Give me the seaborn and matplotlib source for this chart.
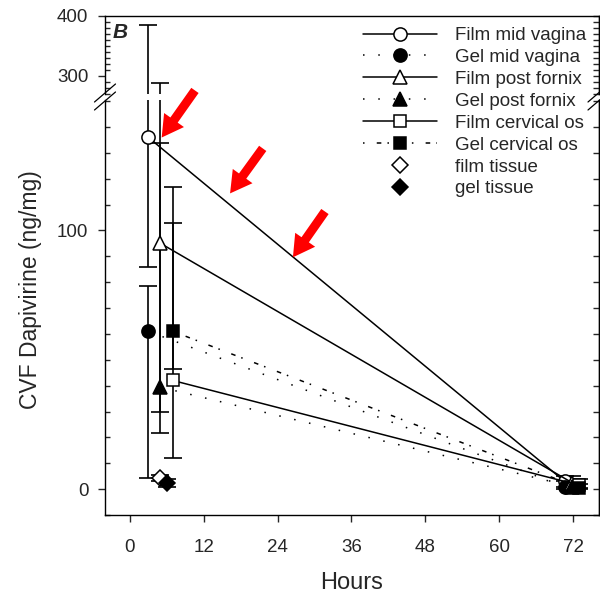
import numpy as np
import pandas as pd
import matplotlib
matplotlib.use("Agg")
import matplotlib.pyplot as plt
from matplotlib.lines import Line2D
from matplotlib.ticker import MultipleLocator, FixedLocator
import seaborn as sns

sns.set_style("ticks")
plt.rcParams["font.family"] = ["Liberation Sans", "DejaVu Sans"]

# Sampling times (h); each site is offset slightly so the groups stay readable
hours_mid = [3, 70.6]
hours_post = [5, 71.8]
hours_cerv = [7, 73]
hours_film_tissue = [5]
hours_gel_tissue = [6]

# Mean CVF dapivirine (ng/mg)
film_mid = [136, 3]
gel_mid = [61, 1]
film_post = [95, 2.5]
gel_post = [39.4, 1]
film_cerv = [42, 1.5]
gel_cerv = [61, 0.5]
film_tissue = [4.2]
gel_tissue = [2.3]

# Lower / upper ends of the error bars
film_mid_lo, film_mid_hi = [86, 1], [385, 5]
gel_mid_lo, gel_mid_hi = [4.2, 0], [78.4, 3]
film_post_lo, film_post_hi = [21.6, 1], [288, 5]
gel_post_lo, gel_post_hi = [30, 0], [133.6, 3]
film_cerv_lo, film_cerv_hi = [12, 0.5], [102.7, 4]
gel_cerv_lo, gel_cerv_hi = [46.5, 0], [116.6, 2]
film_tissue_lo, film_tissue_hi = [3.0], [5.5]
gel_tissue_lo, gel_tissue_hi = [0.8], [3.8]

DOTS = (0, (1, 9))
DASHDOT = (0, (1, 8, 3, 4))
LW = 1.1
MS = 9.5

series = [
    ("Film mid vagina", hours_mid, film_mid, film_mid_lo, film_mid_hi, "o", "white", "-"),
    ("Gel mid vagina", hours_mid, gel_mid, gel_mid_lo, gel_mid_hi, "o", "black", DOTS),
    ("Film post fornix", hours_post, film_post, film_post_lo, film_post_hi, "^", "white", "-"),
    ("Gel post fornix", hours_post, gel_post, gel_post_lo, gel_post_hi, "^", "black", DOTS),
    ("Film cervical os", hours_cerv, film_cerv, film_cerv_lo, film_cerv_hi, "s", "white", "-"),
    ("Gel cervical os", hours_cerv, gel_cerv, gel_cerv_lo, gel_cerv_hi, "s", "black", DASHDOT),
    ("film tissue", hours_film_tissue, film_tissue, film_tissue_lo, film_tissue_hi, "D", "white", "None"),
    ("gel tissue", hours_gel_tissue, gel_tissue, gel_tissue_lo, gel_tissue_hi, "D", "black", "None"),
]

W, H = 600, 596
fig = plt.figure(figsize=(W / 100, H / 100), dpi=100)

left, right = 105, 598.5
up_top, up_bot = 16, 94
lo_top, lo_bot = 100, 515
ax_up = fig.add_axes([left / W, 1 - up_bot / H, (right - left) / W, (up_bot - up_top) / H])
ax_lo = fig.add_axes([left / W, 1 - lo_bot / H, (right - left) / W, (lo_bot - lo_top) / H])

XLIM = (-4, 76.1)
for ax in (ax_up, ax_lo):
    ax.set_xlim(*XLIM)
    for s in ax.spines.values():
        s.set_linewidth(1.0)
        s.set_color("black")
ax_up.set_ylim(270, 400)
ax_lo.set_ylim(-10, 150.4)
ax_up.spines["bottom"].set_visible(False)
ax_lo.spines["top"].set_visible(False)

# markers, lines and error bars
for label, xs, ys, lo, hi, mk, fc, ls in series:
    df = pd.DataFrame({"Hours": xs, "CVF": ys})
    yerr = [np.array(ys) - np.array(lo), np.array(hi) - np.array(ys)]
    for ax in (ax_up, ax_lo):
        ax.errorbar(xs, ys, yerr=yerr, fmt="none", ecolor="black",
                    elinewidth=1.2, capsize=6.5, capthick=1.2, zorder=2)
    ms = MS - 1.5 if mk in ("s", "D") else MS
    sns.lineplot(data=df, x="Hours", y="CVF", ax=ax_lo, color="black",
                 linestyle=ls, linewidth=LW, marker=mk, markersize=ms,
                 markerfacecolor=fc, markeredgecolor="black",
                 markeredgewidth=1.1, errorbar=None, legend=False, zorder=3)

# axis ticks
ax_lo.set_xticks(np.arange(0, 73, 12))
ax_lo.tick_params(axis="x", which="major", direction="out", length=5, width=1,
                  labelsize=13.5, pad=12.5, top=False)
ax_up.tick_params(axis="x", which="both", bottom=False, top=False, labelbottom=False)

ax_lo.set_yticks([0, 100])
ax_lo.yaxis.set_minor_locator(MultipleLocator(10))
ax_up.set_yticks([300, 400])
ax_up.yaxis.set_minor_locator(MultipleLocator(10))
for ax in (ax_up, ax_lo):
    ax.tick_params(axis="y", which="major", direction="out", length=5, width=1,
                   labelsize=13.5, pad=7, right=False)
    ax.tick_params(axis="y", which="minor", direction="in", length=3.3, width=1, right=False)
    ax.set_xlabel("")
    ax.set_ylabel("")
    sec = ax.secondary_yaxis("right")
    lo_, hi_ = ax.get_ylim()
    sec.yaxis.set_major_locator(FixedLocator(np.arange(np.ceil(lo_ / 10) * 10, hi_ + 0.1, 10)))
    sec.tick_params(axis="y", direction="in", length=4.5, width=1, labelright=False)
    sec.spines["right"].set_linewidth(1.0)

# axis break marks
def brk(xp, yp):
    fig.add_artist(Line2D([(xp - 10.5) / W, (xp + 10.5) / W],
                          [1 - (yp + 9) / H, 1 - (yp - 9) / H],
                          color="black", lw=0.9))

for xp in (left, right):
    brk(xp, up_bot - 1)
    brk(xp, lo_top + 1)

# red arrows
arrows = [((5.2, 135.9), (10.6, 154.1)),
          ((16.3, 114.3), (21.6, 131.7)),
          ((26.5, 89.6), (31.7, 107.3))]
for tip, tail in arrows:
    ax_lo.annotate("", xy=tip, xytext=tail, annotation_clip=False,
                   arrowprops=dict(arrowstyle="simple,head_length=1.1,head_width=1.25,tail_width=0.46",
                                   color="#ff0000", mutation_scale=14,
                                   shrinkA=0, shrinkB=0, lw=0), zorder=5)

# legend
handles = []
labels = []
for label, xs, ys, lo, hi, mk, fc, ls in series:
    ms = MS - 1.5 if mk in ("s", "D") else MS
    handles.append(Line2D([], [], color="black", linestyle=ls, linewidth=LW, marker=mk,
                          markersize=ms, markerfacecolor=fc, markeredgecolor="black",
                          markeredgewidth=1.1))
    labels.append(label)
fig.legend(handles, labels, loc="upper left", bbox_to_anchor=(363 / W, 1 - 27 / H),
           frameon=False, fontsize=13.5, handlelength=3.95, handletextpad=0.96,
           labelspacing=0.255, borderpad=0, borderaxespad=0, numpoints=1)

fig.text(120 / W, 1 - 32 / H, "B", fontsize=15, fontweight="bold", fontstyle="italic",
         ha="center", va="center")
fig.text(31 / W, 1 - 290 / H, "CVF Dapivirine (ng/mg)", rotation=90, fontsize=16.5,
         ha="center", va="center")
fig.text((left + right) / 2 / W, 1 - 583 / H, "Hours", fontsize=17, ha="center", va="center")

fig.savefig("out.png", dpi=100)
